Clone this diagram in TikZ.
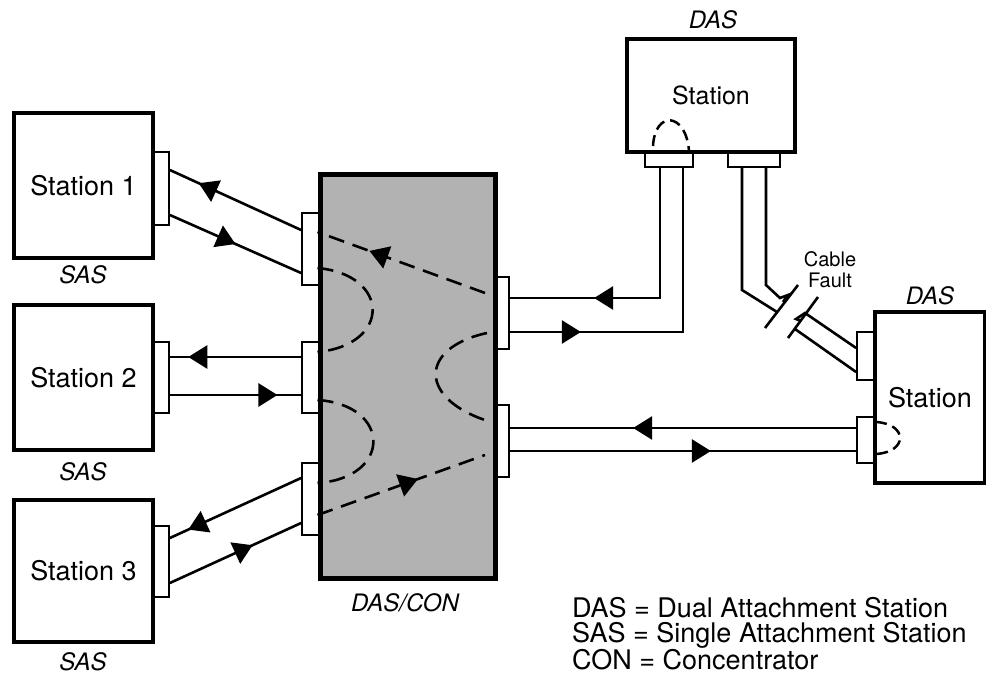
\documentclass[tikz,border=0pt]{standalone}
\usepackage{fontspec}
\setmainfont{TeX Gyre Heros}
\usetikzlibrary{arrows.meta,decorations.markings}
\begin{document}
\begin{tikzpicture}[x=1pt,y=-1pt,
  stn/.style={draw, line width=4pt, fill=white, inner sep=0pt, font=\fontsize{27}{30}\selectfont},
  portbox/.style={draw, line width=1.8pt, fill=white, inner sep=0pt},
  cable/.style={line width=2.6pt},
  flow/.style={line width=2.6pt, dash pattern=on 16pt off 9pt},
  loopdash/.style={line width=2.5pt, dash pattern=on 11pt off 6pt},
  tag/.style={font=\fontsize{24}{26}\selectfont\itshape, inner sep=0pt},
  arrowat/.style={postaction={decorate}, decoration={markings, mark=at position #1 with {\arrow{Triangle[length=19pt,width=23pt]}}}},
]
\useasboundingbox (0,0) rectangle (986,682);

% ports
\node[portbox, minimum width=16pt, minimum height=73pt] (p1) at (161,188.5) {};
\node[portbox, minimum width=16pt, minimum height=71pt] (p2) at (161,377.5) {};
\node[portbox, minimum width=16pt, minimum height=71pt] (p3) at (161,561.5) {};
\node[portbox, minimum width=18pt, minimum height=72pt] (cA) at (311,249) {};
\node[portbox, minimum width=18pt, minimum height=71pt] (cB) at (311,377.5) {};
\node[portbox, minimum width=18pt, minimum height=72pt] (cC) at (311,499) {};
\node[portbox, minimum width=14pt, minimum height=72pt] (cR1) at (502,313) {};
\node[portbox, minimum width=14pt, minimum height=72pt] (cR2) at (502,441) {};
\node[portbox, minimum width=48pt, minimum height=15pt] (tp1) at (669,159.5) {};
\node[portbox, minimum width=52pt, minimum height=15pt] (tp2) at (754,159.5) {};
\node[portbox, minimum width=18pt, minimum height=48pt] (rp1) at (866,356) {};
\node[portbox, minimum width=18pt, minimum height=46pt] (rp2) at (866,440) {};

% stations
\node[stn, minimum width=139pt, minimum height=145pt] (s1) at (83.5,185.5) {Station 1};
\node[stn, minimum width=139pt, minimum height=145pt] (s2) at (83.5,377.5) {Station 2};
\node[stn, minimum width=139pt, minimum height=142pt] (s3) at (83.5,571) {Station 3};
\node[draw, line width=5pt, fill=black!30, inner sep=0pt, minimum width=175pt, minimum height=403pt] (con) at (407.5,376.5) {};
\node[stn, font=\fontsize{25}{28}\selectfont, minimum width=168pt, minimum height=113pt] (dtop) at (711,95.5) {Station};
\node[stn, minimum width=110pt, minimum height=171pt] (dright) at (930,397.5) {Station};

% labels
\node[tag] (l1) at (83,275) {SAS};
\node[tag] (l2) at (83,472) {SAS};
\node[tag] (l3) at (83,662) {SAS};
\node[tag] (lcon) at (405,603) {DAS/CON};
\node[tag] (ltop) at (713,20) {DAS};
\node[tag] (lright) at (930,296) {DAS};
\node[align=center, inner sep=0pt, font=\fontsize{20}{21}\selectfont] (fault) at (830,270) {Cable\\Fault};
\node[anchor=north west, align=left, inner sep=0pt, font=\fontsize{27}{25}\selectfont] (legend) at (572,597)
  {DAS = Dual Attachment Station\\SAS = Single Attachment Station\\CON = Concentrator};

% SAS links
\draw[cable, arrowat=0.78] (cA.west |- 0,230) -- (p1.east |- 0,170);
\draw[cable, arrowat=0.5] (p1.east |- 0,215) -- (cA.west |- 0,273);
\draw[cable, arrowat=0.86] (cB.west |- 0,357) -- (p2.east |- 0,357);
\draw[cable, arrowat=0.82] (p2.east |- 0,395) -- (cB.west |- 0,395);
\draw[cable, arrowat=0.86] (cC.west |- 0,478) -- (p3.east |- 0,538);
\draw[cable, arrowat=0.63] (p3.east |- 0,583) -- (cC.west |- 0,523);

% paths inside the concentrator
\coordinate (d1r) at (485,293);
\coordinate (d3a) at (487,333);
\coordinate (d3b) at (491,422);
\coordinate (d5r) at (485,455);
\draw[flow, arrowat=0.69] (d1r) -- (con.west |- 0,232);
\draw[flow] (con.west |- 0,268) .. controls (391,275) and (391,345) .. (con.west |- 0,352);
\draw[flow] (d3a) .. controls (418,348) and (418,400) .. (d3b);
\draw[flow] (con.west |- 0,400) .. controls (392,405) and (392,478) .. (con.west |- 0,483);
\draw[flow, arrowat=0.6] (con.west |- 0,515) -- (d5r);

% links to top DAS
\draw[cable, arrowat=196pt] (tp1.south -| 660,0) |- (cR1.east |- 0,298);
\draw[cable, arrowat=71pt] (cR1.east |- 0,332) -| (tp1.south -| 683,0);

% cable with fault
\draw[cable] (tp2.south -| 742,0) -- (742,290) -- (777,312);
\draw[cable] (tp2.south -| 766,0) -- (766,285) -- (780,298) -- (788,295) -- (783,302);
\draw[cable] (765,328) -- (798,285);
\draw[cable] (788,338) -- (818,297);
\draw[cable] (rp1.west |- 0,348) -- (805,313) -- (796,319) -- (801,321);
\draw[cable] (rp1.west |- 0,372) -- (795,329);

% link to right DAS
\draw[cable, arrowat=223pt] (rp2.west |- 0,428) -- (cR2.east |- 0,428);
\draw[cable, arrowat=201pt] (cR2.east |- 0,451) -- (rp2.west |- 0,451);

% wrap loops
\draw[loopdash] (653,146) .. controls (655,110) and (686,112) .. (689,151);
\draw[loopdash] (876,422) .. controls (908,424) and (908,452) .. (876,454);
\end{tikzpicture}
\end{document}
